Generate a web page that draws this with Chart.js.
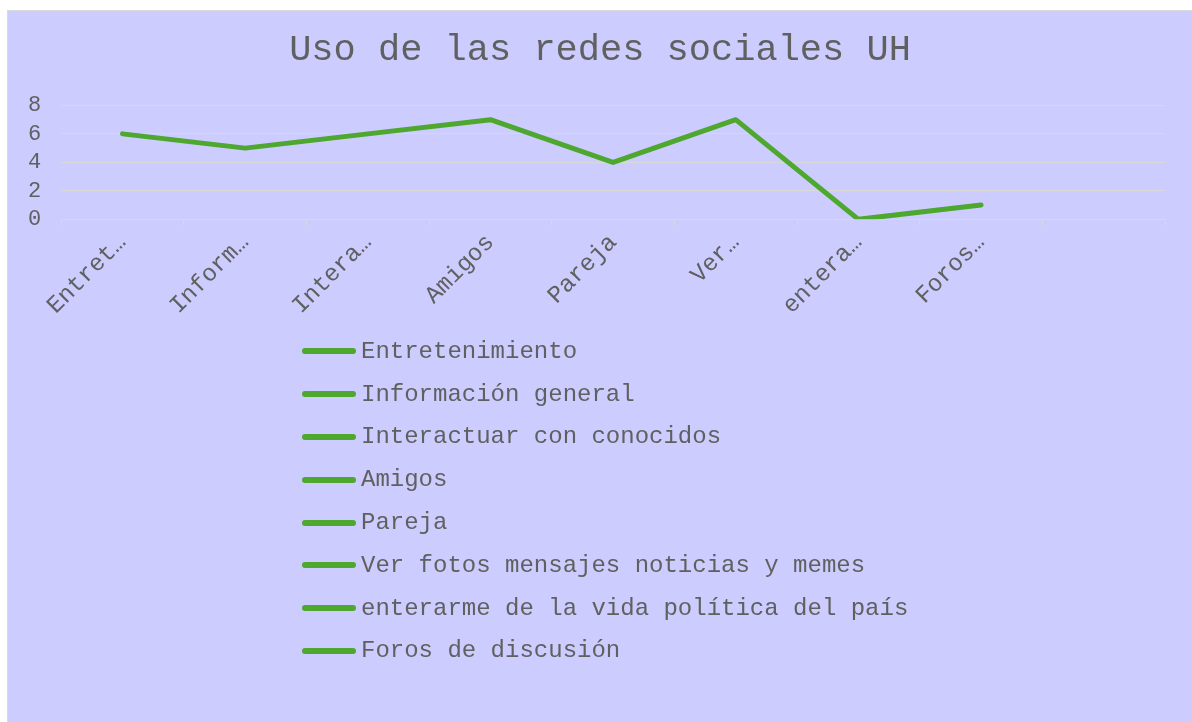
<!DOCTYPE html>
<html>
<head>
<meta charset="utf-8">
<script src="https://cdn.jsdelivr.net/npm/chart.js@4"></script>
<style>
  html, body { margin: 0; padding: 0; background: #ffffff; }
  #frame {
    position: absolute; left: 7px; top: 10px; width: 1190px; height: 720px;
    background: #CCCCFF; border: 1px solid #d9d9d9; box-sizing: border-box; overflow: hidden;
  }
  #chartBox { position: absolute; left: 0; top: 0; width: 1184px; height: 330px; }
  #legend {
    position: absolute; left: 294px; top: 319px;
    font-family: "Liberation Mono", "Courier New", monospace; font-size: 24px; color: #606060;
  }
  .item { display: flex; align-items: center; height: 42.8px; white-space: pre; }
  .swatch { width: 54px; height: 6px; border-radius: 3px; margin-right: 5px; }
</style>
</head>
<body>
<div id="frame">
  <div id="chartBox"><canvas id="c" width="1184" height="330"></canvas></div>
  <div id="legend"></div>
</div>
<script>
const chartTitle = "Uso de las redes sociales UH";
const categories = [
  "Entretenimiento",
  "Información general",
  "Interactuar con conocidos",
  "Amigos",
  "Pareja",
  "Ver fotos mensajes noticias y memes",
  "enterarme de la vida política del país",
  "Foros de discusión",
  ""
];
const tickLabels = ["Entret…", "Inform…", "Intera…", "Amigos", "Pareja", "Ver…", "entera…", "Foros…", ""];
const values = [6, 5, 6, 7, 4, 7, 0, 1, null];
const yTicks = [0, 2, 4, 6, 8];

const GREEN = "#4EA72E";
const TEXT = "#606060";
const GRID = "#d9d9d9";
const FONT = "'Liberation Mono', 'Courier New', monospace";

new Chart(document.getElementById("c"), {
  type: "line",
  data: {
    labels: categories,
    datasets: [{
      label: chartTitle,
      data: values,
      yAxisID: "y",
      borderColor: GREEN,
      backgroundColor: GREEN,
      borderWidth: 5,
      borderCapStyle: "round",
      borderJoinStyle: "round",
      pointRadius: 0,
      pointHoverRadius: 0,
      tension: 0,
      spanGaps: false
    }]
  },
  options: {
    responsive: false,
    animation: false,
    layout: { padding: { left: 0, right: 0, top: 0, bottom: 18 } },
    plugins: {
      legend: { display: false },
      tooltip: { enabled: false },
      title: {
        display: true,
        text: chartTitle,
        color: TEXT,
        font: { family: FONT, size: 37, weight: "normal" },
        padding: { top: 17, bottom: 33 }
      }
    },
    scales: {
      x: {
        type: "category",
        offset: true,
        grid: { display: true, drawOnChartArea: false, drawTicks: true, tickLength: 6, color: GRID, offset: true },
        border: { display: true, color: GRID, width: 1 },
        ticks: {
          color: TEXT,
          font: { family: FONT, size: 24 },
          minRotation: 45, maxRotation: 45,
          autoSkip: false,
          padding: 3,
          callback: (v, i) => tickLabels[i]
        }
      },
      y: {
        position: "left",
        min: yTicks[0],
        max: yTicks[yTicks.length - 1],
        afterBuildTicks: (axis) => { axis.ticks = yTicks.map(v => ({ value: v })); },
        grid: { color: GRID, drawTicks: false, lineWidth: 1 },
        border: { display: false },
        ticks: { color: TEXT, font: { family: FONT, size: 22 }, padding: 20, autoSkip: false }
      },
      yRightMargin: {
        position: "right",
        min: yTicks[0],
        max: yTicks[yTicks.length - 1],
        grid: { display: false },
        border: { display: false },
        ticks: { display: false },
        afterFit: (axis) => { axis.width = 27; }
      }
    }
  }
});

const legendEl = document.getElementById("legend");
categories.filter(c => c !== "").forEach(name => {
  const row = document.createElement("div");
  row.className = "item";
  const sw = document.createElement("span");
  sw.className = "swatch";
  sw.style.background = GREEN;
  const tx = document.createElement("span");
  tx.textContent = name;
  row.appendChild(sw);
  row.appendChild(tx);
  legendEl.appendChild(row);
});
</script>
</body>
</html>
